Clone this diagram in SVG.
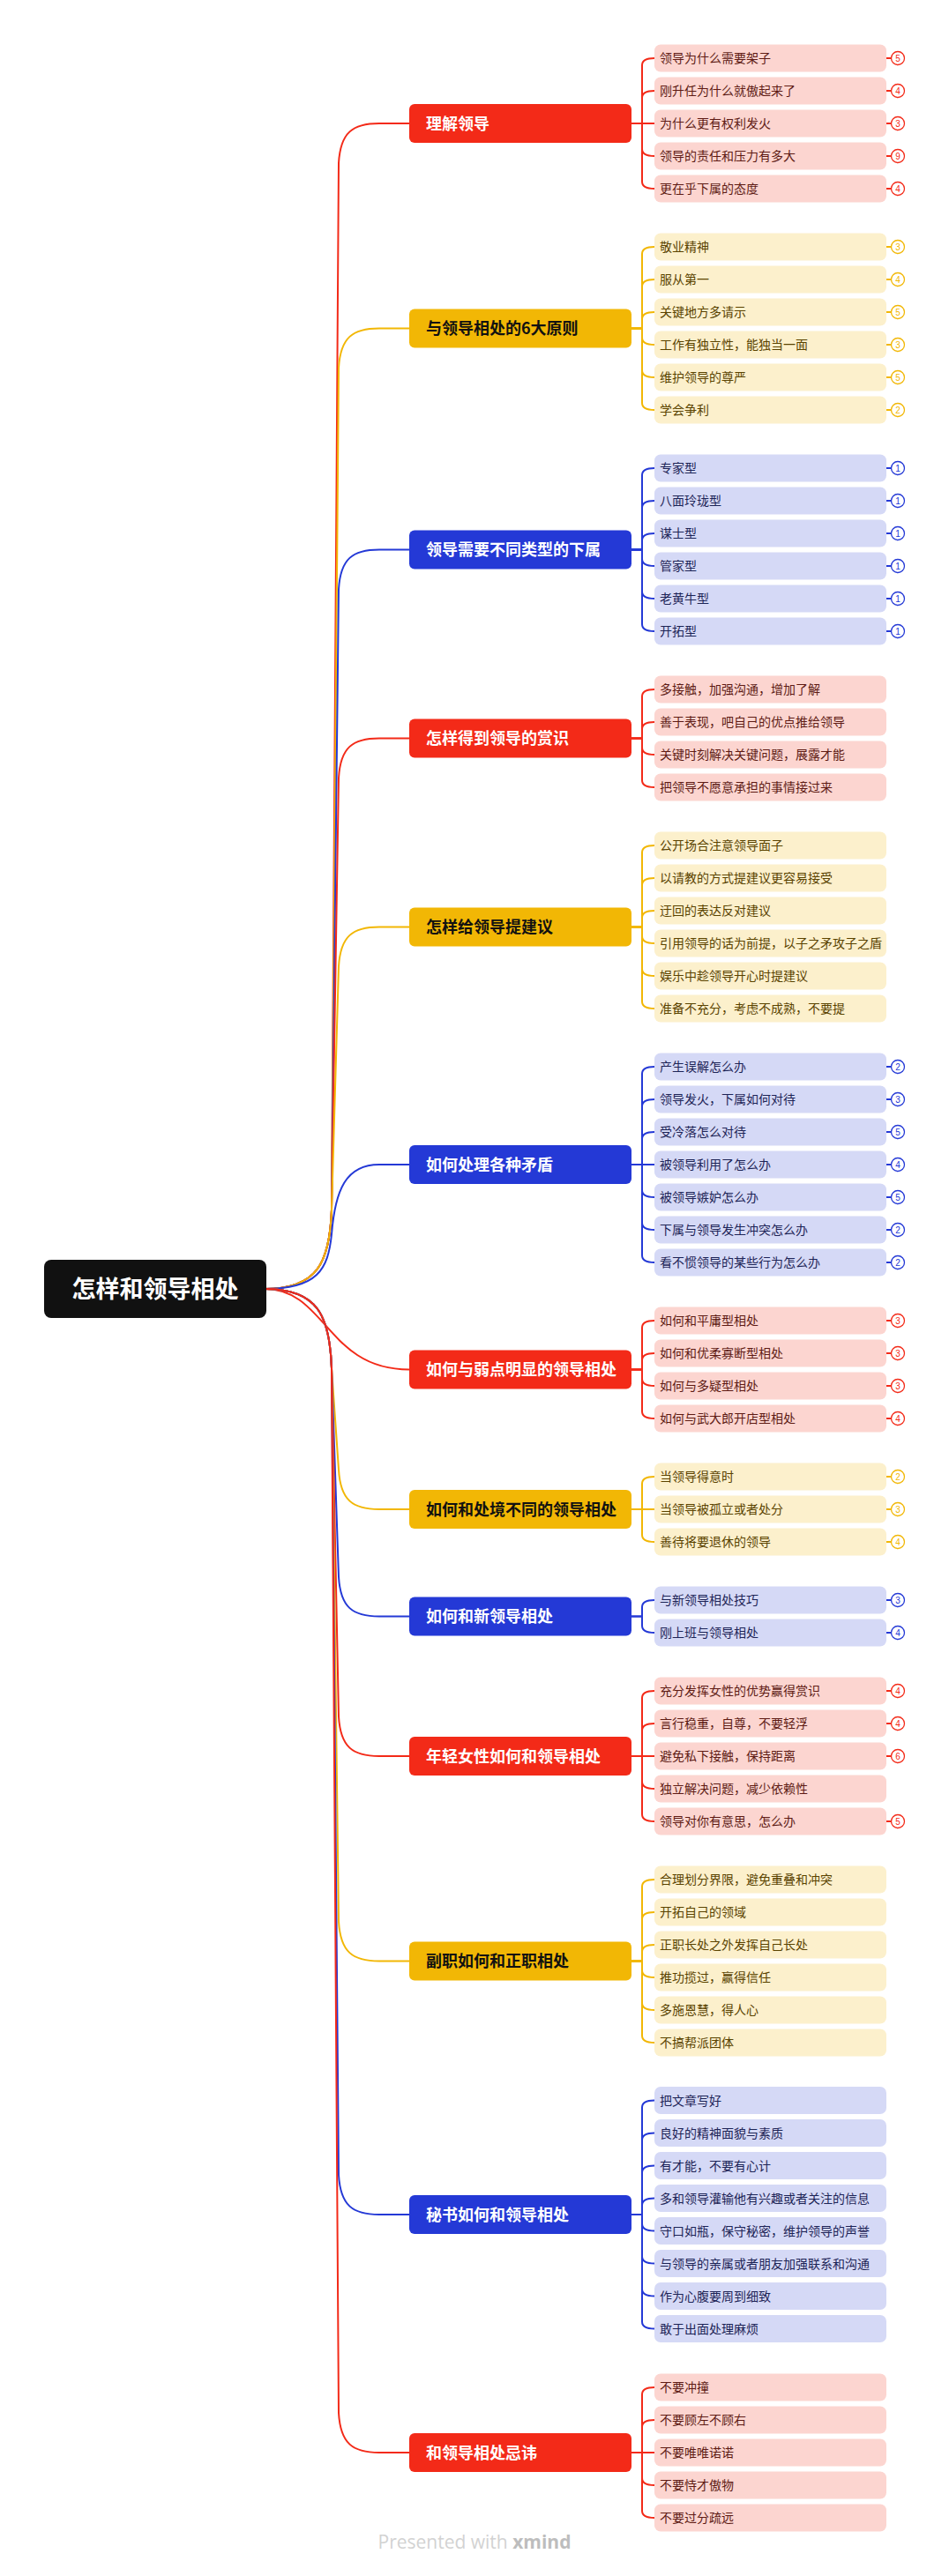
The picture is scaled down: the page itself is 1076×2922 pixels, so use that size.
<svg xmlns="http://www.w3.org/2000/svg" width="1076" height="2922" viewBox="0 0 1076 2922">
<style>
text{font-family:"Noto Sans CJK SC","Noto Sans",sans-serif}
.lr{fill:#FCD5D0}.ly{fill:#FCF0CC}.lb{fill:#D5D9F6}
.tr{fill:#5E1B14}.ty{fill:#5A4300}.tb{fill:#1D2456}
.lt{font-size:14px}
.br{fill:#F32A18}.by{fill:#F2B705}.bb{fill:#2439D6}
.bt{font-size:18px;font-weight:bold}
.w{fill:#FFFFFF}.k{fill:#111111}
.cr{stroke:#F32A18}.cy{stroke:#F2B705}.cb{stroke:#2439D6}
.con path{fill:none;stroke-width:2}
.bd circle{fill:#fff;stroke-width:1.3}
.bd line{stroke-width:2}
.bd text{font-size:10px;text-anchor:middle;stroke:none;font-family:"Liberation Sans",sans-serif}
.xr{fill:#F32A18}.xy{fill:#F2B705}.xb{fill:#2439D6}
</style>
<rect width="1076" height="2922" fill="#FFFFFF"/>
<g id="connectors" class="con">
<path class="cr" d="M290 1462 H300 C360 1462 374 1432 376 1372 L384 185 C386 150 400 140 430 140 L464 140"/>
<path class="cy" d="M290 1462 H300 C360 1462 374 1432 376 1372 L384 417.5 C386 382.5 400 372.5 430 372.5 L464 372.5"/>
<path class="cb" d="M290 1462 H300 C360 1462 374 1432 376 1372 L384 668.5 C386 633.5 400 623.5 430 623.5 L464 623.5"/>
<path class="cr" d="M290 1462 H300 C360 1462 374 1432 376 1372 L384 882.5 C386 847.5 400 837.5 430 837.5 L464 837.5"/>
<path class="cy" d="M290 1462 H300 C360 1462 374 1432 376 1372 L384 1096.5 C386 1061.5 400 1051.5 430 1051.5 L464 1051.5"/>
<path class="cb" d="M290 1462 H300 C360 1462 372 1440 376 1400 C380 1350 392 1321 430 1321 L464 1321"/>
<path class="cr" d="M290 1462 H300 C370 1462 370 1553.5 464 1553.5"/>
<path class="cy" d="M290 1462 H300 C360 1462 374 1492 376 1552 L384 1667 C386 1702 400 1712 430 1712 L464 1712"/>
<path class="cb" d="M290 1462 H300 C360 1462 374 1492 376 1552 L384 1788.5 C386 1823.5 400 1833.5 430 1833.5 L464 1833.5"/>
<path class="cr" d="M290 1462 H300 C360 1462 374 1492 376 1552 L384 1947 C386 1982 400 1992 430 1992 L464 1992"/>
<path class="cy" d="M290 1462 H300 C360 1462 374 1492 376 1552 L384 2179.5 C386 2214.5 400 2224.5 430 2224.5 L464 2224.5"/>
<path class="cb" d="M290 1462 H300 C360 1462 374 1492 376 1552 L384 2467 C386 2502 400 2512 430 2512 L464 2512"/>
<path class="cr" d="M290 1462 H300 C360 1462 374 1492 376 1552 L384 2737 C386 2772 400 2782 430 2782 L464 2782"/>
<path class="cr" d="M716 140 H728 V74 Q728 66 742 66"/>
<path class="cr" d="M716 140 H728 V111 Q728 103 742 103"/>
<path class="cr" d="M716 140 H742"/>
<path class="cr" d="M716 140 H728 V169 Q728 177 742 177"/>
<path class="cr" d="M716 140 H728 V206 Q728 214 742 214"/>
<path class="cy" d="M716 372.5 H728 V288 Q728 280 742 280"/>
<path class="cy" d="M716 372.5 H728 V325 Q728 317 742 317"/>
<path class="cy" d="M716 372.5 H728 V362 Q728 354 742 354"/>
<path class="cy" d="M716 372.5 H728 V383 Q728 391 742 391"/>
<path class="cy" d="M716 372.5 H728 V420 Q728 428 742 428"/>
<path class="cy" d="M716 372.5 H728 V457 Q728 465 742 465"/>
<path class="cb" d="M716 623.5 H728 V539 Q728 531 742 531"/>
<path class="cb" d="M716 623.5 H728 V576 Q728 568 742 568"/>
<path class="cb" d="M716 623.5 H728 V613 Q728 605 742 605"/>
<path class="cb" d="M716 623.5 H728 V634 Q728 642 742 642"/>
<path class="cb" d="M716 623.5 H728 V671 Q728 679 742 679"/>
<path class="cb" d="M716 623.5 H728 V708 Q728 716 742 716"/>
<path class="cr" d="M716 837.5 H728 V790 Q728 782 742 782"/>
<path class="cr" d="M716 837.5 H728 V827 Q728 819 742 819"/>
<path class="cr" d="M716 837.5 H728 V848 Q728 856 742 856"/>
<path class="cr" d="M716 837.5 H728 V885 Q728 893 742 893"/>
<path class="cy" d="M716 1051.5 H728 V967 Q728 959 742 959"/>
<path class="cy" d="M716 1051.5 H728 V1004 Q728 996 742 996"/>
<path class="cy" d="M716 1051.5 H728 V1041 Q728 1033 742 1033"/>
<path class="cy" d="M716 1051.5 H728 V1062 Q728 1070 742 1070"/>
<path class="cy" d="M716 1051.5 H728 V1099 Q728 1107 742 1107"/>
<path class="cy" d="M716 1051.5 H728 V1136 Q728 1144 742 1144"/>
<path class="cb" d="M716 1321 H728 V1218 Q728 1210 742 1210"/>
<path class="cb" d="M716 1321 H728 V1255 Q728 1247 742 1247"/>
<path class="cb" d="M716 1321 H728 V1292 Q728 1284 742 1284"/>
<path class="cb" d="M716 1321 H742"/>
<path class="cb" d="M716 1321 H728 V1350 Q728 1358 742 1358"/>
<path class="cb" d="M716 1321 H728 V1387 Q728 1395 742 1395"/>
<path class="cb" d="M716 1321 H728 V1424 Q728 1432 742 1432"/>
<path class="cr" d="M716 1553.5 H728 V1506 Q728 1498 742 1498"/>
<path class="cr" d="M716 1553.5 H728 V1543 Q728 1535 742 1535"/>
<path class="cr" d="M716 1553.5 H728 V1564 Q728 1572 742 1572"/>
<path class="cr" d="M716 1553.5 H728 V1601 Q728 1609 742 1609"/>
<path class="cy" d="M716 1712 H728 V1683 Q728 1675 742 1675"/>
<path class="cy" d="M716 1712 H742"/>
<path class="cy" d="M716 1712 H728 V1741 Q728 1749 742 1749"/>
<path class="cb" d="M716 1833.5 H728 V1823 Q728 1815 742 1815"/>
<path class="cb" d="M716 1833.5 H728 V1844 Q728 1852 742 1852"/>
<path class="cr" d="M716 1992 H728 V1926 Q728 1918 742 1918"/>
<path class="cr" d="M716 1992 H728 V1963 Q728 1955 742 1955"/>
<path class="cr" d="M716 1992 H742"/>
<path class="cr" d="M716 1992 H728 V2021 Q728 2029 742 2029"/>
<path class="cr" d="M716 1992 H728 V2058 Q728 2066 742 2066"/>
<path class="cy" d="M716 2224.5 H728 V2140 Q728 2132 742 2132"/>
<path class="cy" d="M716 2224.5 H728 V2177 Q728 2169 742 2169"/>
<path class="cy" d="M716 2224.5 H728 V2214 Q728 2206 742 2206"/>
<path class="cy" d="M716 2224.5 H728 V2235 Q728 2243 742 2243"/>
<path class="cy" d="M716 2224.5 H728 V2272 Q728 2280 742 2280"/>
<path class="cy" d="M716 2224.5 H728 V2309 Q728 2317 742 2317"/>
<path class="cb" d="M716 2512 H728 V2390.5 Q728 2382.5 742 2382.5"/>
<path class="cb" d="M716 2512 H728 V2427.5 Q728 2419.5 742 2419.5"/>
<path class="cb" d="M716 2512 H728 V2464.5 Q728 2456.5 742 2456.5"/>
<path class="cb" d="M716 2512 H728 V2501.5 Q728 2493.5 742 2493.5"/>
<path class="cb" d="M716 2512 H728 V2522.5 Q728 2530.5 742 2530.5"/>
<path class="cb" d="M716 2512 H728 V2559.5 Q728 2567.5 742 2567.5"/>
<path class="cb" d="M716 2512 H728 V2596.5 Q728 2604.5 742 2604.5"/>
<path class="cb" d="M716 2512 H728 V2633.5 Q728 2641.5 742 2641.5"/>
<path class="cr" d="M716 2782 H728 V2716 Q728 2708 742 2708"/>
<path class="cr" d="M716 2782 H728 V2753 Q728 2745 742 2745"/>
<path class="cr" d="M716 2782 H742"/>
<path class="cr" d="M716 2782 H728 V2811 Q728 2819 742 2819"/>
<path class="cr" d="M716 2782 H728 V2848 Q728 2856 742 2856"/>
</g>

<g id="root">
<rect x="50" y="1429" width="252" height="66" rx="8" class="k"/>
<text x="176" y="1471.5" font-size="27" font-weight="bold" class="w" text-anchor="middle">怎样和领导相处</text>
</g>

<g id="b1"><rect x="464" y="118" width="252" height="44" rx="6" class="br"/><text x="483" y="146.5" class="bt w">理解领导</text></g>
<g id="b1-1"><rect x="742" y="50.5" width="263" height="31" rx="7" class="lr"/><text x="748" y="71" class="lt tr">领导为什么需要架子</text></g>
<g id="b1-2"><rect x="742" y="87.5" width="263" height="31" rx="7" class="lr"/><text x="748" y="108" class="lt tr">刚升任为什么就傲起来了</text></g>
<g id="b1-3"><rect x="742" y="124.5" width="263" height="31" rx="7" class="lr"/><text x="748" y="145" class="lt tr">为什么更有权利发火</text></g>
<g id="b1-4"><rect x="742" y="161.5" width="263" height="31" rx="7" class="lr"/><text x="748" y="182" class="lt tr">领导的责任和压力有多大</text></g>
<g id="b1-5"><rect x="742" y="198.5" width="263" height="31" rx="7" class="lr"/><text x="748" y="219" class="lt tr">更在乎下属的态度</text></g>

<g id="b2"><rect x="464" y="350.5" width="252" height="44" rx="6" class="by"/><text x="483" y="379" class="bt k">与领导相处的6大原则</text></g>
<g id="b2-1"><rect x="742" y="264.5" width="263" height="31" rx="7" class="ly"/><text x="748" y="285" class="lt ty">敬业精神</text></g>
<g id="b2-2"><rect x="742" y="301.5" width="263" height="31" rx="7" class="ly"/><text x="748" y="322" class="lt ty">服从第一</text></g>
<g id="b2-3"><rect x="742" y="338.5" width="263" height="31" rx="7" class="ly"/><text x="748" y="359" class="lt ty">关键地方多请示</text></g>
<g id="b2-4"><rect x="742" y="375.5" width="263" height="31" rx="7" class="ly"/><text x="748" y="396" class="lt ty">工作有独立性，能独当一面</text></g>
<g id="b2-5"><rect x="742" y="412.5" width="263" height="31" rx="7" class="ly"/><text x="748" y="433" class="lt ty">维护领导的尊严</text></g>
<g id="b2-6"><rect x="742" y="449.5" width="263" height="31" rx="7" class="ly"/><text x="748" y="470" class="lt ty">学会争利</text></g>

<g id="b3"><rect x="464" y="601.5" width="252" height="44" rx="6" class="bb"/><text x="483" y="630" class="bt w">领导需要不同类型的下属</text></g>
<g id="b3-1"><rect x="742" y="515.5" width="263" height="31" rx="7" class="lb"/><text x="748" y="536" class="lt tb">专家型</text></g>
<g id="b3-2"><rect x="742" y="552.5" width="263" height="31" rx="7" class="lb"/><text x="748" y="573" class="lt tb">八面玲珑型</text></g>
<g id="b3-3"><rect x="742" y="589.5" width="263" height="31" rx="7" class="lb"/><text x="748" y="610" class="lt tb">谋士型</text></g>
<g id="b3-4"><rect x="742" y="626.5" width="263" height="31" rx="7" class="lb"/><text x="748" y="647" class="lt tb">管家型</text></g>
<g id="b3-5"><rect x="742" y="663.5" width="263" height="31" rx="7" class="lb"/><text x="748" y="684" class="lt tb">老黄牛型</text></g>
<g id="b3-6"><rect x="742" y="700.5" width="263" height="31" rx="7" class="lb"/><text x="748" y="721" class="lt tb">开拓型</text></g>

<g id="b4"><rect x="464" y="815.5" width="252" height="44" rx="6" class="br"/><text x="483" y="844" class="bt w">怎样得到领导的赏识</text></g>
<g id="b4-1"><rect x="742" y="766.5" width="263" height="31" rx="7" class="lr"/><text x="748" y="787" class="lt tr">多接触，加强沟通，增加了解</text></g>
<g id="b4-2"><rect x="742" y="803.5" width="263" height="31" rx="7" class="lr"/><text x="748" y="824" class="lt tr">善于表现，吧自己的优点推给领导</text></g>
<g id="b4-3"><rect x="742" y="840.5" width="263" height="31" rx="7" class="lr"/><text x="748" y="861" class="lt tr">关键时刻解决关键问题，展露才能</text></g>
<g id="b4-4"><rect x="742" y="877.5" width="263" height="31" rx="7" class="lr"/><text x="748" y="898" class="lt tr">把领导不愿意承担的事情接过来</text></g>

<g id="b5"><rect x="464" y="1029.5" width="252" height="44" rx="6" class="by"/><text x="483" y="1058" class="bt k">怎样给领导提建议</text></g>
<g id="b5-1"><rect x="742" y="943.5" width="263" height="31" rx="7" class="ly"/><text x="748" y="964" class="lt ty">公开场合注意领导面子</text></g>
<g id="b5-2"><rect x="742" y="980.5" width="263" height="31" rx="7" class="ly"/><text x="748" y="1001" class="lt ty">以请教的方式提建议更容易接受</text></g>
<g id="b5-3"><rect x="742" y="1017.5" width="263" height="31" rx="7" class="ly"/><text x="748" y="1038" class="lt ty">迂回的表达反对建议</text></g>
<g id="b5-4"><rect x="742" y="1054.5" width="263" height="31" rx="7" class="ly"/><text x="748" y="1075" class="lt ty">引用领导的话为前提，以子之矛攻子之盾</text></g>
<g id="b5-5"><rect x="742" y="1091.5" width="263" height="31" rx="7" class="ly"/><text x="748" y="1112" class="lt ty">娱乐中趁领导开心时提建议</text></g>
<g id="b5-6"><rect x="742" y="1128.5" width="263" height="31" rx="7" class="ly"/><text x="748" y="1149" class="lt ty">准备不充分，考虑不成熟，不要提</text></g>

<g id="b6"><rect x="464" y="1299" width="252" height="44" rx="6" class="bb"/><text x="483" y="1327.5" class="bt w">如何处理各种矛盾</text></g>
<g id="b6-1"><rect x="742" y="1194.5" width="263" height="31" rx="7" class="lb"/><text x="748" y="1215" class="lt tb">产生误解怎么办</text></g>
<g id="b6-2"><rect x="742" y="1231.5" width="263" height="31" rx="7" class="lb"/><text x="748" y="1252" class="lt tb">领导发火，下属如何对待</text></g>
<g id="b6-3"><rect x="742" y="1268.5" width="263" height="31" rx="7" class="lb"/><text x="748" y="1289" class="lt tb">受冷落怎么对待</text></g>
<g id="b6-4"><rect x="742" y="1305.5" width="263" height="31" rx="7" class="lb"/><text x="748" y="1326" class="lt tb">被领导利用了怎么办</text></g>
<g id="b6-5"><rect x="742" y="1342.5" width="263" height="31" rx="7" class="lb"/><text x="748" y="1363" class="lt tb">被领导嫉妒怎么办</text></g>
<g id="b6-6"><rect x="742" y="1379.5" width="263" height="31" rx="7" class="lb"/><text x="748" y="1400" class="lt tb">下属与领导发生冲突怎么办</text></g>
<g id="b6-7"><rect x="742" y="1416.5" width="263" height="31" rx="7" class="lb"/><text x="748" y="1437" class="lt tb">看不惯领导的某些行为怎么办</text></g>

<g id="b7"><rect x="464" y="1531.5" width="252" height="44" rx="6" class="br"/><text x="483" y="1560" class="bt w">如何与弱点明显的领导相处</text></g>
<g id="b7-1"><rect x="742" y="1482.5" width="263" height="31" rx="7" class="lr"/><text x="748" y="1503" class="lt tr">如何和平庸型相处</text></g>
<g id="b7-2"><rect x="742" y="1519.5" width="263" height="31" rx="7" class="lr"/><text x="748" y="1540" class="lt tr">如何和优柔寡断型相处</text></g>
<g id="b7-3"><rect x="742" y="1556.5" width="263" height="31" rx="7" class="lr"/><text x="748" y="1577" class="lt tr">如何与多疑型相处</text></g>
<g id="b7-4"><rect x="742" y="1593.5" width="263" height="31" rx="7" class="lr"/><text x="748" y="1614" class="lt tr">如何与武大郎开店型相处</text></g>

<g id="b8"><rect x="464" y="1690" width="252" height="44" rx="6" class="by"/><text x="483" y="1718.5" class="bt k">如何和处境不同的领导相处</text></g>
<g id="b8-1"><rect x="742" y="1659.5" width="263" height="31" rx="7" class="ly"/><text x="748" y="1680" class="lt ty">当领导得意时</text></g>
<g id="b8-2"><rect x="742" y="1696.5" width="263" height="31" rx="7" class="ly"/><text x="748" y="1717" class="lt ty">当领导被孤立或者处分</text></g>
<g id="b8-3"><rect x="742" y="1733.5" width="263" height="31" rx="7" class="ly"/><text x="748" y="1754" class="lt ty">善待将要退休的领导</text></g>

<g id="b9"><rect x="464" y="1811.5" width="252" height="44" rx="6" class="bb"/><text x="483" y="1840" class="bt w">如何和新领导相处</text></g>
<g id="b9-1"><rect x="742" y="1799.5" width="263" height="31" rx="7" class="lb"/><text x="748" y="1820" class="lt tb">与新领导相处技巧</text></g>
<g id="b9-2"><rect x="742" y="1836.5" width="263" height="31" rx="7" class="lb"/><text x="748" y="1857" class="lt tb">刚上班与领导相处</text></g>

<g id="b10"><rect x="464" y="1970" width="252" height="44" rx="6" class="br"/><text x="483" y="1998.5" class="bt w">年轻女性如何和领导相处</text></g>
<g id="b10-1"><rect x="742" y="1902.5" width="263" height="31" rx="7" class="lr"/><text x="748" y="1923" class="lt tr">充分发挥女性的优势赢得赏识</text></g>
<g id="b10-2"><rect x="742" y="1939.5" width="263" height="31" rx="7" class="lr"/><text x="748" y="1960" class="lt tr">言行稳重，自尊，不要轻浮</text></g>
<g id="b10-3"><rect x="742" y="1976.5" width="263" height="31" rx="7" class="lr"/><text x="748" y="1997" class="lt tr">避免私下接触，保持距离</text></g>
<g id="b10-4"><rect x="742" y="2013.5" width="263" height="31" rx="7" class="lr"/><text x="748" y="2034" class="lt tr">独立解决问题，减少依赖性</text></g>
<g id="b10-5"><rect x="742" y="2050.5" width="263" height="31" rx="7" class="lr"/><text x="748" y="2071" class="lt tr">领导对你有意思，怎么办</text></g>

<g id="b11"><rect x="464" y="2202.5" width="252" height="44" rx="6" class="by"/><text x="483" y="2231" class="bt k">副职如何和正职相处</text></g>
<g id="b11-1"><rect x="742" y="2116.5" width="263" height="31" rx="7" class="ly"/><text x="748" y="2137" class="lt ty">合理划分界限，避免重叠和冲突</text></g>
<g id="b11-2"><rect x="742" y="2153.5" width="263" height="31" rx="7" class="ly"/><text x="748" y="2174" class="lt ty">开拓自己的领域</text></g>
<g id="b11-3"><rect x="742" y="2190.5" width="263" height="31" rx="7" class="ly"/><text x="748" y="2211" class="lt ty">正职长处之外发挥自己长处</text></g>
<g id="b11-4"><rect x="742" y="2227.5" width="263" height="31" rx="7" class="ly"/><text x="748" y="2248" class="lt ty">推功揽过，赢得信任</text></g>
<g id="b11-5"><rect x="742" y="2264.5" width="263" height="31" rx="7" class="ly"/><text x="748" y="2285" class="lt ty">多施恩慧，得人心</text></g>
<g id="b11-6"><rect x="742" y="2301.5" width="263" height="31" rx="7" class="ly"/><text x="748" y="2322" class="lt ty">不搞帮派团体</text></g>

<g id="b12"><rect x="464" y="2490" width="252" height="44" rx="6" class="bb"/><text x="483" y="2518.5" class="bt w">秘书如何和领导相处</text></g>
<g id="b12-1"><rect x="742" y="2367" width="263" height="31" rx="7" class="lb"/><text x="748" y="2387.5" class="lt tb">把文章写好</text></g>
<g id="b12-2"><rect x="742" y="2404" width="263" height="31" rx="7" class="lb"/><text x="748" y="2424.5" class="lt tb">良好的精神面貌与素质</text></g>
<g id="b12-3"><rect x="742" y="2441" width="263" height="31" rx="7" class="lb"/><text x="748" y="2461.5" class="lt tb">有才能，不要有心计</text></g>
<g id="b12-4"><rect x="742" y="2478" width="263" height="31" rx="7" class="lb"/><text x="748" y="2498.5" class="lt tb">多和领导灌输他有兴趣或者关注的信息</text></g>
<g id="b12-5"><rect x="742" y="2515" width="263" height="31" rx="7" class="lb"/><text x="748" y="2535.5" class="lt tb">守口如瓶，保守秘密，维护领导的声誉</text></g>
<g id="b12-6"><rect x="742" y="2552" width="263" height="31" rx="7" class="lb"/><text x="748" y="2572.5" class="lt tb">与领导的亲属或者朋友加强联系和沟通</text></g>
<g id="b12-7"><rect x="742" y="2589" width="263" height="31" rx="7" class="lb"/><text x="748" y="2609.5" class="lt tb">作为心腹要周到细致</text></g>
<g id="b12-8"><rect x="742" y="2626" width="263" height="31" rx="7" class="lb"/><text x="748" y="2646.5" class="lt tb">敢于出面处理麻烦</text></g>

<g id="b13"><rect x="464" y="2760" width="252" height="44" rx="6" class="br"/><text x="483" y="2788.5" class="bt w">和领导相处忌讳</text></g>
<g id="b13-1"><rect x="742" y="2692.5" width="263" height="31" rx="7" class="lr"/><text x="748" y="2713" class="lt tr">不要冲撞</text></g>
<g id="b13-2"><rect x="742" y="2729.5" width="263" height="31" rx="7" class="lr"/><text x="748" y="2750" class="lt tr">不要顾左不顾右</text></g>
<g id="b13-3"><rect x="742" y="2766.5" width="263" height="31" rx="7" class="lr"/><text x="748" y="2787" class="lt tr">不要唯唯诺诺</text></g>
<g id="b13-4"><rect x="742" y="2803.5" width="263" height="31" rx="7" class="lr"/><text x="748" y="2824" class="lt tr">不要恃才傲物</text></g>
<g id="b13-5"><rect x="742" y="2840.5" width="263" height="31" rx="7" class="lr"/><text x="748" y="2861" class="lt tr">不要过分疏远</text></g>

<g id="badges" class="bd">
<g class="cr"><line x1="1005" y1="66" x2="1011" y2="66"/><circle cx="1018" cy="66" r="7.5"/><text x="1018" y="69.5" class="xr">5</text></g>
<g class="cr"><line x1="1005" y1="103" x2="1011" y2="103"/><circle cx="1018" cy="103" r="7.5"/><text x="1018" y="106.5" class="xr">4</text></g>
<g class="cr"><line x1="1005" y1="140" x2="1011" y2="140"/><circle cx="1018" cy="140" r="7.5"/><text x="1018" y="143.5" class="xr">3</text></g>
<g class="cr"><line x1="1005" y1="177" x2="1011" y2="177"/><circle cx="1018" cy="177" r="7.5"/><text x="1018" y="180.5" class="xr">9</text></g>
<g class="cr"><line x1="1005" y1="214" x2="1011" y2="214"/><circle cx="1018" cy="214" r="7.5"/><text x="1018" y="217.5" class="xr">4</text></g>

<g class="cy"><line x1="1005" y1="280" x2="1011" y2="280"/><circle cx="1018" cy="280" r="7.5"/><text x="1018" y="283.5" class="xy">3</text></g>
<g class="cy"><line x1="1005" y1="317" x2="1011" y2="317"/><circle cx="1018" cy="317" r="7.5"/><text x="1018" y="320.5" class="xy">4</text></g>
<g class="cy"><line x1="1005" y1="354" x2="1011" y2="354"/><circle cx="1018" cy="354" r="7.5"/><text x="1018" y="357.5" class="xy">5</text></g>
<g class="cy"><line x1="1005" y1="391" x2="1011" y2="391"/><circle cx="1018" cy="391" r="7.5"/><text x="1018" y="394.5" class="xy">3</text></g>
<g class="cy"><line x1="1005" y1="428" x2="1011" y2="428"/><circle cx="1018" cy="428" r="7.5"/><text x="1018" y="431.5" class="xy">5</text></g>
<g class="cy"><line x1="1005" y1="465" x2="1011" y2="465"/><circle cx="1018" cy="465" r="7.5"/><text x="1018" y="468.5" class="xy">2</text></g>

<g class="cb"><line x1="1005" y1="531" x2="1011" y2="531"/><circle cx="1018" cy="531" r="7.5"/><text x="1018" y="534.5" class="xb">1</text></g>
<g class="cb"><line x1="1005" y1="568" x2="1011" y2="568"/><circle cx="1018" cy="568" r="7.5"/><text x="1018" y="571.5" class="xb">1</text></g>
<g class="cb"><line x1="1005" y1="605" x2="1011" y2="605"/><circle cx="1018" cy="605" r="7.5"/><text x="1018" y="608.5" class="xb">1</text></g>
<g class="cb"><line x1="1005" y1="642" x2="1011" y2="642"/><circle cx="1018" cy="642" r="7.5"/><text x="1018" y="645.5" class="xb">1</text></g>
<g class="cb"><line x1="1005" y1="679" x2="1011" y2="679"/><circle cx="1018" cy="679" r="7.5"/><text x="1018" y="682.5" class="xb">1</text></g>
<g class="cb"><line x1="1005" y1="716" x2="1011" y2="716"/><circle cx="1018" cy="716" r="7.5"/><text x="1018" y="719.5" class="xb">1</text></g>

<g class="cb"><line x1="1005" y1="1210" x2="1011" y2="1210"/><circle cx="1018" cy="1210" r="7.5"/><text x="1018" y="1213.5" class="xb">2</text></g>
<g class="cb"><line x1="1005" y1="1247" x2="1011" y2="1247"/><circle cx="1018" cy="1247" r="7.5"/><text x="1018" y="1250.5" class="xb">3</text></g>
<g class="cb"><line x1="1005" y1="1284" x2="1011" y2="1284"/><circle cx="1018" cy="1284" r="7.5"/><text x="1018" y="1287.5" class="xb">5</text></g>
<g class="cb"><line x1="1005" y1="1321" x2="1011" y2="1321"/><circle cx="1018" cy="1321" r="7.5"/><text x="1018" y="1324.5" class="xb">4</text></g>
<g class="cb"><line x1="1005" y1="1358" x2="1011" y2="1358"/><circle cx="1018" cy="1358" r="7.5"/><text x="1018" y="1361.5" class="xb">5</text></g>
<g class="cb"><line x1="1005" y1="1395" x2="1011" y2="1395"/><circle cx="1018" cy="1395" r="7.5"/><text x="1018" y="1398.5" class="xb">2</text></g>
<g class="cb"><line x1="1005" y1="1432" x2="1011" y2="1432"/><circle cx="1018" cy="1432" r="7.5"/><text x="1018" y="1435.5" class="xb">2</text></g>

<g class="cr"><line x1="1005" y1="1498" x2="1011" y2="1498"/><circle cx="1018" cy="1498" r="7.5"/><text x="1018" y="1501.5" class="xr">3</text></g>
<g class="cr"><line x1="1005" y1="1535" x2="1011" y2="1535"/><circle cx="1018" cy="1535" r="7.5"/><text x="1018" y="1538.5" class="xr">3</text></g>
<g class="cr"><line x1="1005" y1="1572" x2="1011" y2="1572"/><circle cx="1018" cy="1572" r="7.5"/><text x="1018" y="1575.5" class="xr">3</text></g>
<g class="cr"><line x1="1005" y1="1609" x2="1011" y2="1609"/><circle cx="1018" cy="1609" r="7.5"/><text x="1018" y="1612.5" class="xr">4</text></g>

<g class="cy"><line x1="1005" y1="1675" x2="1011" y2="1675"/><circle cx="1018" cy="1675" r="7.5"/><text x="1018" y="1678.5" class="xy">2</text></g>
<g class="cy"><line x1="1005" y1="1712" x2="1011" y2="1712"/><circle cx="1018" cy="1712" r="7.5"/><text x="1018" y="1715.5" class="xy">3</text></g>
<g class="cy"><line x1="1005" y1="1749" x2="1011" y2="1749"/><circle cx="1018" cy="1749" r="7.5"/><text x="1018" y="1752.5" class="xy">4</text></g>

<g class="cb"><line x1="1005" y1="1815" x2="1011" y2="1815"/><circle cx="1018" cy="1815" r="7.5"/><text x="1018" y="1818.5" class="xb">3</text></g>
<g class="cb"><line x1="1005" y1="1852" x2="1011" y2="1852"/><circle cx="1018" cy="1852" r="7.5"/><text x="1018" y="1855.5" class="xb">4</text></g>

<g class="cr"><line x1="1005" y1="1918" x2="1011" y2="1918"/><circle cx="1018" cy="1918" r="7.5"/><text x="1018" y="1921.5" class="xr">4</text></g>
<g class="cr"><line x1="1005" y1="1955" x2="1011" y2="1955"/><circle cx="1018" cy="1955" r="7.5"/><text x="1018" y="1958.5" class="xr">4</text></g>
<g class="cr"><line x1="1005" y1="1992" x2="1011" y2="1992"/><circle cx="1018" cy="1992" r="7.5"/><text x="1018" y="1995.5" class="xr">6</text></g>
<g class="cr"><line x1="1005" y1="2066" x2="1011" y2="2066"/><circle cx="1018" cy="2066" r="7.5"/><text x="1018" y="2069.5" class="xr">5</text></g>
</g>

<g id="footer">
<text x="538" y="2891" text-anchor="middle" font-size="21" style="font-family:'Open Sans',sans-serif"><tspan fill="#D2D2D2">Presented with </tspan><tspan fill="#BDBDBD" font-weight="bold">xmind</tspan></text>
</g>
</svg>
